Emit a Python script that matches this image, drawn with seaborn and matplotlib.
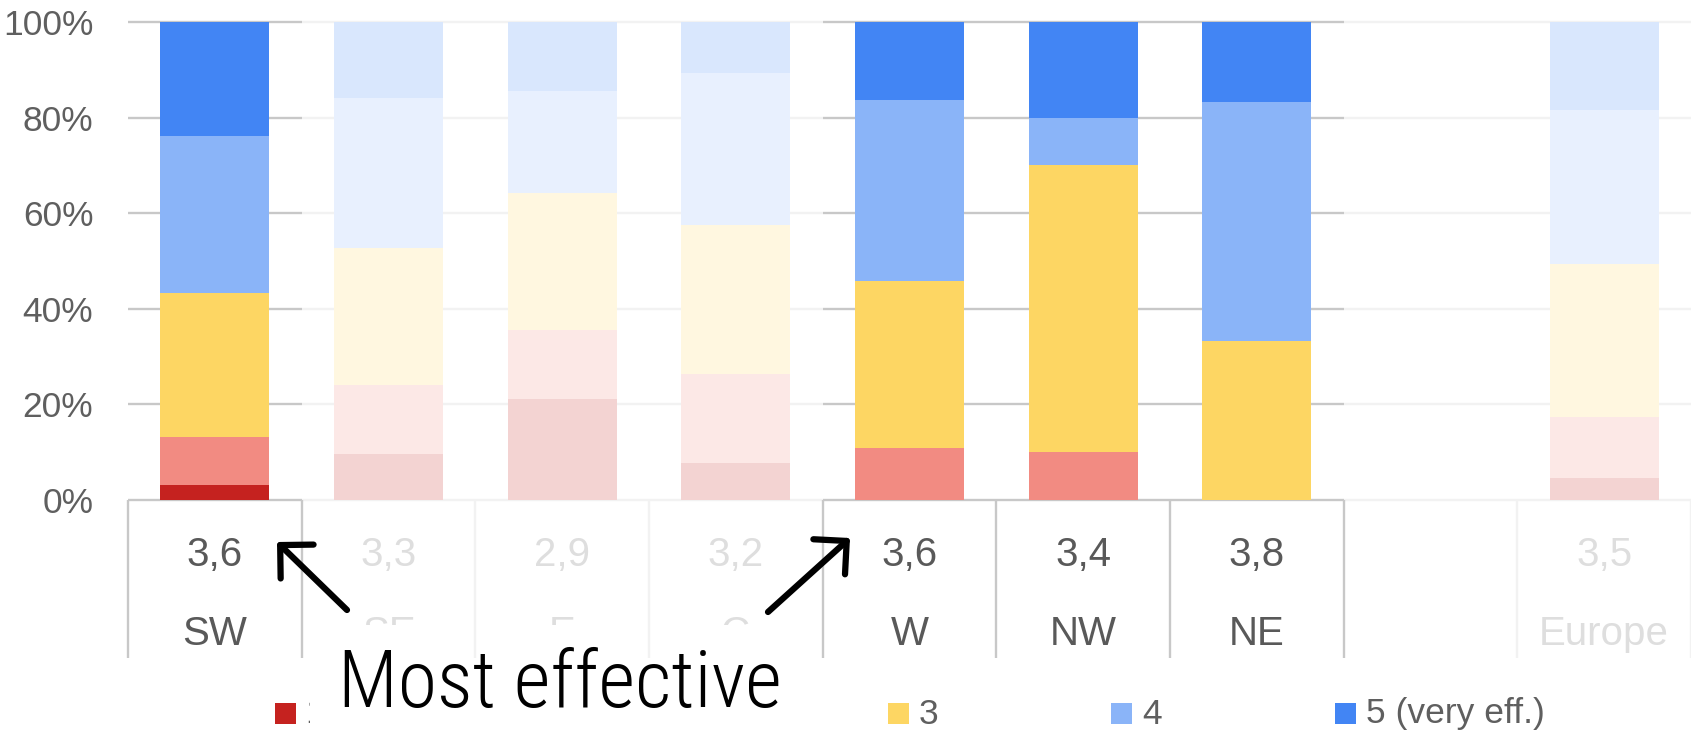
import numpy as np
import matplotlib
matplotlib.use("Agg")
import matplotlib.pyplot as plt
import matplotlib.transforms as mtransforms
from matplotlib.patches import Rectangle
from matplotlib.colors import to_rgb
import seaborn as sns

# ---------------- data ----------------
regions = ["SW", "SE", "E", "C", "W", "NW", "NE", " ", "Europe"]
means = ["3,6", "3,3", "2,9", "3,2", "3,6", "3,4", "3,8", "", "3,5"]
highlight = [True, False, False, False, True, True, True, False, False]

level1 = [3.1, 9.6, 21.1, 7.7, 0.0, 0.0, 0.0, 0.0, 4.5]
level2 = [10.0, 14.5, 14.5, 18.6, 10.8, 10.0, 0.0, 0.0, 12.8]
level3 = [30.3, 28.7, 28.6, 31.2, 35.1, 60.0, 33.3, 0.0, 32.0]
level4 = [32.8, 31.4, 21.4, 31.9, 37.8, 10.0, 50.0, 0.0, 32.2]
level5 = [23.8, 15.8, 14.4, 10.6, 16.3, 20.0, 16.7, 0.0, 18.5]

legend_labels = ["1 (not eff.)", "2", "3", "4", "5 (very eff.)"]
level_colors = ["#c5221f", "#f28b82", "#fdd663", "#8ab4f8", "#4285f4"]
yticks = [0, 20, 40, 60, 80, 100]

# ---------------- setup ----------------
sns.set_theme(style="white")
plt.rcParams["font.family"] = ["Liberation Sans", "DejaVu Sans"]

W, H = 1691, 736
fig = plt.figure(figsize=(W / 100, H / 100), dpi=100)
ax = fig.add_axes([128 / W, 1 - 500 / H, (W - 128) / W, (500 - 22) / H])


def fx(px):
    return px / W


def fy(py):
    return 1 - py / H


def fade(c, a=0.2):
    r = np.array(to_rgb(c))
    return tuple(r * a + (1 - a))


levels = np.array([level1, level2, level3, level4, level5])
cum = np.cumsum(levels, axis=0)

# stacked bars: draw cumulative totals from top level down
for k in range(4, -1, -1):
    n0 = len(ax.patches)
    sns.barplot(x=regions, y=list(cum[k]), order=regions, color=level_colors[k],
                width=0.627, errorbar=None, ax=ax, linewidth=0, zorder=2)
    for i, p in enumerate(ax.patches[n0:]):
        p.set_facecolor(level_colors[k] if highlight[i] else fade(level_colors[k]))
        p.set_edgecolor("none")
        p.set_zorder(2)

# per-column gridlines
dark_line = "#c8c8c8"
light_line = "#f2f2f2"
for y in yticks:
    for i in range(len(regions)):
        ax.plot([i - 0.5, i + 0.5], [y, y], color=dark_line if highlight[i] else light_line,
                lw=1.7, zorder=1, solid_capstyle="butt", clip_on=False)

ax.set_xlim(-0.5, len(regions) - 0.5)
ax.set_ylim(0, 100)
ax.set_yticks(yticks)
ax.set_yticklabels([f"{v}%" for v in yticks])
ax.tick_params(axis="y", length=0, pad=25, labelsize=25.5, labelcolor="#5f5f5f")
ax.set_xticks([])
ax.set_xlabel("")
ax.set_ylabel("")
for s in ax.spines.values():
    s.set_visible(False)

# ---------------- table below ----------------
blend = mtransforms.blended_transform_factory(ax.transData, ax.transAxes)
dark_txt = "#595959"
light_txt = "#dedede"
for i, (m, r) in enumerate(zip(means, regions)):
    c = dark_txt if highlight[i] else light_txt
    ax.text(i, -0.115, m, transform=blend, ha="center", va="center", fontsize=29,
            color=c, zorder=3, clip_on=False)
    ax.text(i, -0.280, r.strip(), transform=blend, ha="center", va="center", fontsize=29,
            color=c, zorder=3, clip_on=False)

n = len(regions)
for b in range(n + 1):
    left = highlight[b - 1] if b - 1 >= 0 else False
    right = highlight[b] if b < n else False
    col = dark_line if (left or right) else light_line
    ax.plot([b - 0.5, b - 0.5], [0, -0.3305], transform=blend, color=col, lw=1.7,
            zorder=5, clip_on=False, solid_capstyle="butt")

# ---------------- legend ----------------
sq_x = [275, 600, 888, 1111, 1335]
for lx, lab, col in zip(sq_x, legend_labels, level_colors):
    ax.add_patch(Rectangle((fx(lx), fy(724)), 21 / W, 21 / H, transform=fig.transFigure,
                           facecolor=col, edgecolor="none", zorder=3, clip_on=False))
    ax.text(fx(lx + 31), fy(714), lab, transform=fig.transFigure, ha="left", va="center",
            fontsize=25.5, color="#5f5f5f", zorder=3, clip_on=False)

# ---------------- overlay annotation ----------------
note_font = ["Roboto Condensed", "Liberation Sans"]
ax.add_patch(Rectangle((fx(310), 0), fx(805) - fx(310), (736 - 625) / H,
                       transform=fig.transFigure, facecolor="white", edgecolor="none",
                       zorder=4, clip_on=False))
ax.text(fx(338), fy(707), "Most effective", transform=fig.transFigure, ha="left",
        va="baseline", fontsize=57.5, color="black", zorder=6, clip_on=False,
        family=note_font, weight=300)
ax.text(fx(338), fy(806), "(avg)", transform=fig.transFigure, ha="left",
        va="baseline", fontsize=57.5, color="black", zorder=6, clip_on=False,
        family=note_font, weight=300)

arrow_kw = dict(arrowstyle="->,head_length=0.85,head_width=0.85", lw=4.5, color="black",
                mutation_scale=20, shrinkA=0, shrinkB=0)
ax.annotate("", xy=(fx(277), fy(542)), xycoords="figure fraction",
            xytext=(fx(347), fy(610)), textcoords="figure fraction",
            arrowprops=arrow_kw, zorder=6, annotation_clip=False)
ax.annotate("", xy=(fx(850), fy(538)), xycoords="figure fraction",
            xytext=(fx(768), fy(612)), textcoords="figure fraction",
            arrowprops=arrow_kw, zorder=6, annotation_clip=False)

fig.savefig("out.png", dpi=100, facecolor="white")
